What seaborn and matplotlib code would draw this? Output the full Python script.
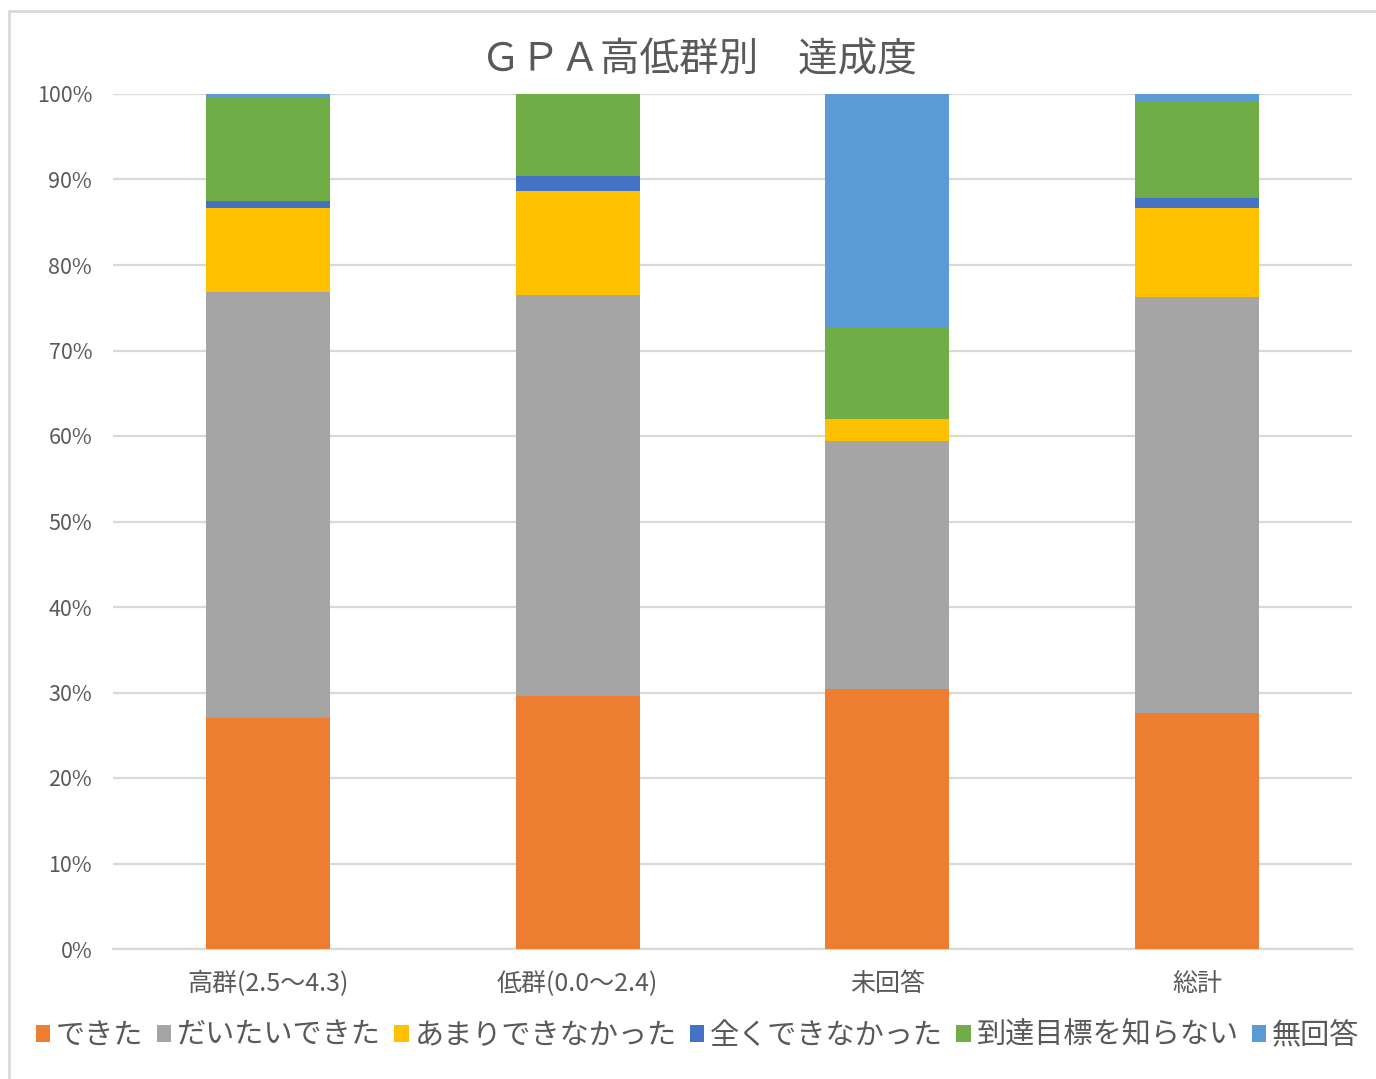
import numpy as np
import pandas as pd
import matplotlib
matplotlib.use("Agg")
import matplotlib.pyplot as plt
from matplotlib.patches import Patch, Rectangle
from matplotlib.ticker import FixedLocator
import seaborn as sns

# Achievement level by GPA group (percent of respondents)
categories = ["高群(2.5〜4.3)", "低群(0.0〜2.4)", "未回答", "総計"]
series_names = ["できた", "だいたいできた", "あまりできなかった",
                "全くできなかった", "到達目標を知らない", "無回答"]
dekita = [27.0, 29.6, 30.4, 27.6]
daitai_dekita = [49.8, 46.9, 29.0, 48.6]
amari_dekinakatta = [9.9, 12.2, 2.6, 10.5]
mattaku_dekinakatta = [0.8, 1.7, 0.0, 1.1]
shiranai = [12.1, 9.6, 10.7, 11.3]
mukaitou = [0.4, 0.0, 27.3, 0.9]
y_tick_labels = ["0%", "10%", "20%", "30%", "40%", "50%",
                 "60%", "70%", "80%", "90%", "100%"]

series_values = [dekita, daitai_dekita, amari_dekinakatta,
                 mattaku_dekinakatta, shiranai, mukaitou]
colors = ["#ED7D31", "#A5A5A5", "#FFC000", "#4472C4", "#70AD47", "#5B9BD5"]

sns.set_theme(style="white")
plt.rcParams["font.family"] = ["Noto Sans CJK JP", "DejaVu Sans"]
text_color = "#595959"
grid_color = "#D9D9D9"

# Long table of cumulative shares so each stack layer can be overdrawn
rows = []
for name, vals in zip(series_names, series_values):
    for cat, v in zip(categories, vals):
        rows.append({"category": cat, "series": name, "value": v})
df = pd.DataFrame(rows)
df["category"] = pd.Categorical(df["category"], categories=categories, ordered=True)
df["series"] = pd.Categorical(df["series"], categories=series_names, ordered=True)
df = df.sort_values(["category", "series"])
df["cum"] = df.groupby("category", observed=True)["value"].cumsum()
totals = df.groupby("category", observed=True)["value"].transform("sum")
df["cum_pct"] = df["cum"] / totals * 100

fig = plt.figure(figsize=(13.76, 10.79), dpi=100)
ax = fig.add_axes([113 / 1376, 1 - 949 / 1079, (1352 - 113) / 1376, (949 - 94) / 1079])

# Draw the tallest cumulative layer first, then each lower layer on top
for name, color in reversed(list(zip(series_names, colors))):
    sub = df[df["series"] == name]
    sns.barplot(data=sub, x="category", y="cum_pct", order=categories,
                color=color, width=0.4, linewidth=0, saturation=1,
                errorbar=None, ax=ax, zorder=3)

ax.set_xlim(-0.5, len(categories) - 0.5)
ax.set_ylim(0, 100)
ax.yaxis.set_major_locator(FixedLocator(np.arange(0, 101, 10)))
ax.set_yticklabels(y_tick_labels)
ax.set_xlabel("")
ax.set_ylabel("")
ax.grid(axis="y", color=grid_color, linewidth=1.6, zorder=0)
ax.grid(axis="x", visible=False)
ax.set_axisbelow(True)
for side in ["left", "right", "top"]:
    ax.spines[side].set_visible(False)
ax.spines["bottom"].set_color(grid_color)
ax.spines["bottom"].set_linewidth(1.6)
ax.tick_params(axis="y", length=0, pad=15, labelsize=15.5, labelcolor=text_color)
ax.tick_params(axis="x", length=0, pad=16, labelsize=18, labelcolor=text_color)

fig.text(0.508, 1 - 60 / 1079, "ＧＰＡ高低群別　達成度", ha="center", va="center",
         fontsize=28.5, color=text_color)

handles = [Patch(facecolor=c, edgecolor="none", label=n)
           for n, c in zip(series_names, colors)]
fig.legend(handles=handles, loc="center", bbox_to_anchor=(0.507, 1 - 1036 / 1079),
           ncol=6, frameon=False, fontsize=21, labelcolor=text_color,
           handlelength=0.5, handleheight=0.5, handletextpad=0.2,
           columnspacing=0.45, borderaxespad=0)

# Chart-area outline
fig.patches.append(Rectangle((9 / 1376, -0.05), 1.2, 1 - 11 / 1079 + 0.05,
                             transform=fig.transFigure, fill=False,
                             edgecolor="#D9D9D9", linewidth=2))

fig.savefig("out.png", dpi=100, facecolor="white")
